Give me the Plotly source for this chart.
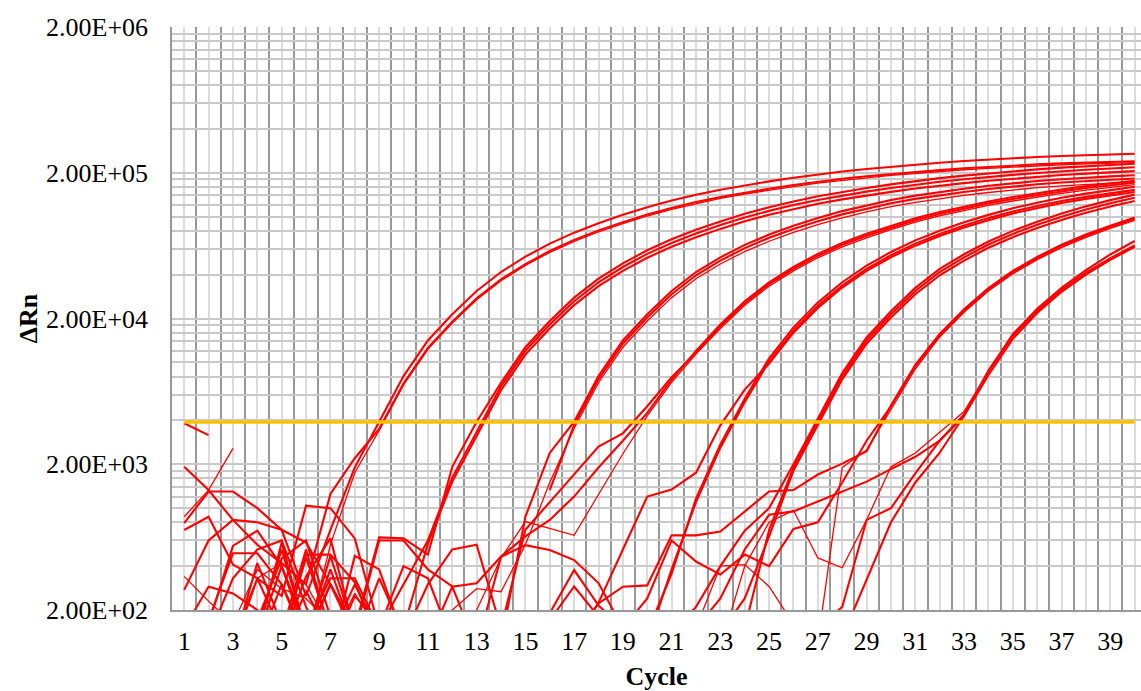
import math
import plotly.graph_objects as go

cycles = list(range(1, 41))
threshold = 3900

A1 = [275, 600, 830, 800, 710, 250, 708, 1905, 3918, 8054, 14125, 21380, 30900, 41690, 53090, 65310, 77620, 90160, 103000, 116100, 128800, 141300, 153100, 164100, 174600, 184900, 195000, 204200, 212300, 220300, 227500, 234400, 241000, 246600, 251800, 256400, 260600, 264200, 267300, 269800]
A2 = [1920, 1330, 830, 560, 420, 300, 1250, 2200, 3490, 7170, 12570, 19030, 27500, 37100, 47250, 58130, 69080, 80240, 91670, 103300, 114600, 125800, 136300, 146000, 155400, 164600, 173600, 181700, 189000, 196100, 202500, 208600, 214500, 219500, 224100, 228200, 231900, 235100, 237900, 240100]
A3 = [873, 1330, 2570, None, 150, 120, 560, 1750, 3409, 7007, 12290, 18600, 26880, 36270, 46190, 56820, 67530, 78440, 89610, 101000, 112100, 122900, 133200, 142800, 151900, 160900, 169700, 177700, 184700, 191700, 197900, 203900, 209700, 214500, 219100, 223100, 226700, 229900, 232600, 234700]
B1 = [790, 1300, 1300, 1000, 710, 580, 300, 150, 630, 620, 480, 1920, 3918, 7250, 12710, 19240, 27810, 37520, 47780, 58780, 69860, 81140, 92700, 104500, 115900, 127200, 137800, 147700, 157100, 166400, 175500, 183800, 191100, 198300, 204800, 211000, 216900, 221900, 226600, 230800]
B2 = [708, 873, 410, 330, 250, 1040, 1000, 620, 150, 300, 600, 1620, 3330, 6850, 12010, 18170, 26270, 35440, 45130, 55510, 65980, 76640, 87550, 98690, 109500, 120100, 130100, 139500, 148400, 157200, 165800, 173600, 180500, 187300, 193400, 199200, 204900, 209600, 214000, 217900]
B3 = [150, 289, 260, 200, 120, 480, 480, 310, 120, 150, 570, 1520, 3130, 6440, 11300, 17100, 24720, 33350, 42470, 52250, 62100, 72130, 82400, 92880, 103000, 113000, 122500, 131300, 139700, 147900, 156000, 163400, 169800, 176200, 182000, 187500, 192800, 197300, 201400, 205100]
C1 = [None, 170, 490, 490, 300, 120, 160, 140, 600, 600, 380, 290, 110, 120, 873, 2390, 3918, 8054, 14125, 21380, 30900, 41690, 52560, 64000, 75290, 86550, 97850, 109100, 119800, 130000, 139300, 147700, 155400, 162700, 169700, 175600, 180500, 185100, 188800, 192200]
C2 = [None, 160, 550, 700, 400, 150, 330, 330, 150, 400, 330, 120, 130, 110, None, 1330, 3720, 7650, 13420, 20310, 29360, 39610, 49930, 60800, 71530, 82220, 92960, 103600, 113800, 123500, 132300, 140300, 147600, 154600, 161200, 166800, 171500, 175800, 179400, 182600]
C3 = [340, 230, 160, 380, 280, 240, 160, 130, 130, 170, 140, 200, 280, 267, 560, 1500, 3530, 7250, 12710, 19240, 27810, 37520, 47300, 57600, 67760, 77900, 88070, 98190, 107800, 117000, 125400, 132900, 139900, 146400, 152700, 158000, 162500, 166600, 169900, 173000]
D1 = [130, 180, 150, 170, 450, 600, 180, 140, 160, 130, 120, 289, 305, 465, 640, 830, 1200, 1900, 2900, 4500, 7600, 12000, 18170, 26270, 35440, 45130, 55510, 65980, 76160, 86520, 97520, 107500, 117300, 127100, 136200, 144900, 153500, 161900, 169500, 176200]
D2 = [None, 130, 330, 520, 600, 210, 100, 470, 380, 130, 300, 520, 560, 150, 710, 1100, 1690, 2640, 3260, 5000, 7900, 11640, 17620, 25480, 34380, 43780, 53840, 64000, 73880, 83920, 94590, 104300, 113800, 123300, 132100, 140600, 148900, 157000, 164400, 170900]
D3 = [None, 150, 130, 330, 420, 300, 150, 130, 170, 140, 150, 160, 200, 455, 808, 725, 651, 1240, 2360, 4300, 7300, 11400, 17080, 24690, 33310, 42420, 52180, 62020, 71590, 81330, 91670, 101100, 110300, 119500, 128000, 136200, 144300, 152200, 159300, 165600]
E1 = [120, 150, 110, 420, 160, 130, 380, 130, 110, 150, 120, 130, 150, 110, 170, 130, 100, 150, 120, 140, 355, 1161, 2735, 5623, 10670, 17380, 25700, 35460, 46160, 57230, 68720, 80070, 91370, 102800, 114200, 124600, 134800, 143900, 152500, 160500]
E2 = [None, 140, 120, 150, 520, 140, 100, 250, 160, 120, 120, 150, 110, 464, 557, 516, 440, 306, 150, 120, 380, 1100, 2600, 5340, 10140, 16510, 24420, 33690, 43850, 54370, 65280, 76070, 86800, 97660, 108500, 118400, 128100, 136700, 144900, 152500]
E3 = [130, 110, 150, 130, 120, 340, 620, 140, 110, 130, 150, 130, 110, 150, 100, 160, 120, 224, 520, 1200, 1340, 1750, 3700, 6500, 9820, 15990, 23640, 32620, 42470, 52650, 63220, 73660, 84060, 94580, 105100, 114600, 124000, 132400, 140300, 147700]
F1 = [None, 120, 150, 130, 400, 130, 110, 160, 130, None, 150, 120, 160, 130, 110, 190, 376, 215, 150, 120, 140, 100, 130, 150, 708, 1905, 3918, 8054, 14125, 21380, 30900, 41690, 52560, 64330, 76070, 87910, 99910, 112000, 123600, 134900]
F2 = [150, 130, 110, 330, 140, 120, 300, 140, 130, 150, 150, 120, 140, 110, 150, 170, 290, 180, 130, 150, 120, 170, 140, 240, 640, 1810, 3720, 7650, 13420, 20310, 29360, 39610, 49930, 61110, 72270, 83510, 94910, 106400, 117400, 128200]
F3 = [120, 110, 160, 130, 580, 140, 110, 150, 130, 140, 190, 130, 110, 130, None, 120, 150, 110, 130, 160, 140, 210, 400, 700, 1000, 2000, 4110, 8460, 14830, 22450, 32450, 43770, 55190, 67550, 79870, 92310, 104900, 117600, 129800, 141600]
G1 = [130, 110, 150, 130, 120, 460, 140, 130, 150, 120, 130, 110, 150, 120, 140, 100, 130, 222, 289, 295, 650, 650, 690, 950, 1300, 1330, 1700, 2020, 2460, 5060, 9600, 15640, 23130, 32300, 42390, 52990, 64160, 75380, 86740, 98460]
G2 = [110, 140, 130, 120, 140, 520, 140, 120, 330, 140, 120, 150, 110, 130, 160, 120, 140, 110, 150, 240, 600, 430, 350, 480, 400, 720, 800, 1500, 2900, 5000, 9390, 15290, 22620, 31580, 41450, 51810, 62740, 73700, 84810, 96270]
G3 = [120, 130, 110, 150, 130, 140, 120, 260, 140, 120, 130, 110, 150, 120, 100, 140, 120, 150, 110, 130, 160, 150, 400, 410, 290, 160, 120, 1900, 2500, 4700, 9000, 14950, 22100, 30870, 40510, 50640, 61310, 72030, 82890, 94090]
H1 = [3820, 3170, None, 120, 150, 130, 300, 130, 150, 120, 150, 120, 140, 110, 130, 150, 120, 100, 140, 130, 150, 120, 110, 140, 160, 150, 130, 130, 320, 800, 1500, 2400, 4300, 8800, 15300, 22600, 31500, 41300, 51700, 62700]
H2 = [130, 150, 120, 110, 300, 130, 470, 140, 120, 150, 120, 140, 110, 150, 130, 100, 140, 120, 150, 130, 110, 150, 240, 520, 900, 950, 1110, 1300, 1520, 1850, 2250, 2900, 4300, 8200, 14500, 21800, 30500, 40000, 50500, 62000]
H3 = [140, 120, 130, 150, 110, 270, 130, 300, 140, 120, 130, 110, 150, 120, 140, 110, 130, 150, 120, 100, 140, 120, 150, 110, 130, None, 150, 210, 830, 1000, 1730, 2900, 4400, 8700, 15600, 23300, 32500, 43000, 55000, 68000]
H4 = [120, 140, 110, 130, 150, 120, 140, 110, 130, 120, 120, 150, 110, 130, 160, 120, 140, 110, 150, 130, 120, 140, 110, 400, 800, 966, 455, 390, 830, 1920, 2390, 3300, 4600, 8600, 15000, 22300, 31000, 41000, 52000, 64000]

series = {
    "A1": A1, "A2": A2, "A3": A3, "B1": B1, "B2": B2, "B3": B3,
    "C1": C1, "C2": C2, "C3": C3, "D1": D1, "D2": D2, "D3": D3,
    "E1": E1, "E2": E2, "E3": E3, "F1": F1, "F2": F2, "F3": F3,
    "G1": G1, "G2": G2, "G3": G3, "H1": H1, "H2": H2, "H3": H3, "H4": H4,
}
thin_series = {"A3", "C3", "D3", "G3", "H4"}

y_major = [200, 2000, 20000, 200000, 2000000]
y_major_labels = ["2.00E+02", "2.00E+03", "2.00E+04", "2.00E+05", "2.00E+06"]

# gridline values on the log axis: 2,4,...,18 x 10^n
y_grid = []
for e in range(2, 6):
    for k in range(2, 20, 2):
        y_grid.append(k * 10 ** e)
y_grid.append(2000000)
y_text = [y_major_labels[y_major.index(v)] if v in y_major else "" for v in y_grid]
x_text = [str(c) if c % 2 == 1 else "" for c in cycles]

RED = "#FF0000"
fig = go.Figure()
for name, vals in series.items():
    assert len(vals) == len(cycles), name
    fig.add_trace(go.Scatter(
        x=cycles, y=vals, mode="lines", name=name,
        line=dict(color=RED, width=1.3 if name in thin_series else 2.1),
        connectgaps=False, showlegend=False, hoverinfo="skip",
    ))

fig.add_trace(go.Scatter(
    x=[cycles[0], cycles[-1]], y=[threshold, threshold], mode="lines",
    line=dict(color="#FFC000", width=3.5), showlegend=False, hoverinfo="skip",
))

FONT = "Liberation Serif, Times New Roman, serif"
fig.update_layout(
    width=1141, height=691,
    margin=dict(l=172, r=0, t=27, b=81, autoexpand=False),
    plot_bgcolor="white", paper_bgcolor="white",
    showlegend=False,
    font=dict(family=FONT, size=26, color="black"),
    xaxis=dict(
        range=[0.5, 40.26], tickmode="array", tickvals=cycles, ticktext=x_text,
        showgrid=True, gridcolor="#dcdcdc", gridwidth=1.5,
        minor=dict(tickmode="linear", tick0=0.5, dtick=1, showgrid=True,
                   gridcolor="#999999", gridwidth=1.5, ticks=""),
        ticks="", showline=True, linecolor="#999999", linewidth=1.5,
        zeroline=False, ticklabelstandoff=7,
        tickfont=dict(family=FONT, size=26, color="black"),
        title=dict(text="<b>Cycle</b>", font=dict(family=FONT, size=26, color="black"), standoff=15),
    ),
    yaxis=dict(
        type="log", range=[math.log10(200), math.log10(2000000)],
        tickmode="array", tickvals=y_grid, ticktext=y_text,
        showgrid=True, gridcolor="#c9c9c9", gridwidth=1.5,
        ticks="", showline=True, linecolor="#999999", linewidth=1.5,
        zeroline=False, ticklabelstandoff=17,
        tickfont=dict(family=FONT, size=26, color="black"),
        title=dict(text="<b>ΔRn</b>", font=dict(family=FONT, size=26, color="black"), standoff=1),
    ),
)

fig.write_html("out.html")
